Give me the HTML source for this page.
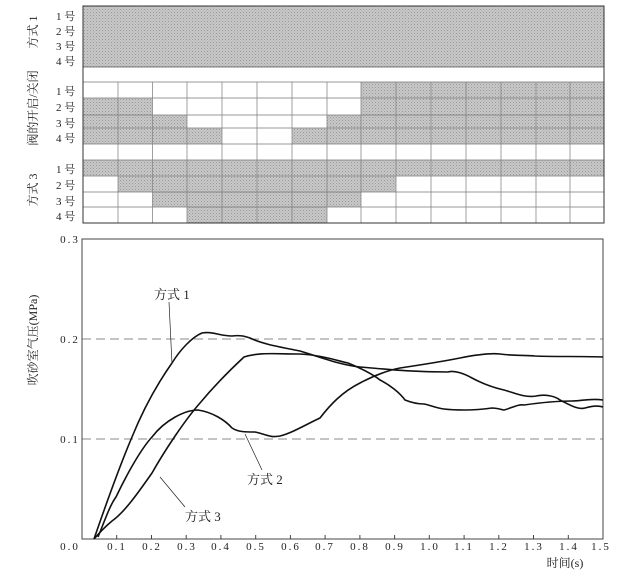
<!DOCTYPE html>
<html><head><meta charset="utf-8"><style>
html,body{margin:0;padding:0;background:#fff}
svg{display:block}
text{font-family:"Liberation Serif","Noto Serif CJK SC",serif;fill:#222}
</style></head><body>
<svg width="622" height="570" viewBox="0 0 622 570" xmlns="http://www.w3.org/2000/svg">
<defs>
<pattern id="p" width="3" height="3" patternUnits="userSpaceOnUse">
<rect width="3" height="3" fill="#c8c8c8"/><rect width="1" height="1" fill="#999"/><rect x="1.5" y="1.5" width="1" height="1" fill="#a8a8a8"/>
</pattern>
</defs>
<rect x="83" y="6" width="521" height="61" fill="url(#p)"/>
<g fill="url(#p)">
<rect x="361" y="82" width="243" height="16"/>
<rect x="83" y="98" width="69.5" height="17"/><rect x="361" y="98" width="243" height="17"/>
<rect x="83" y="115" width="104" height="13"/><rect x="327" y="115" width="277" height="13"/>
<rect x="83" y="128" width="139" height="16"/><rect x="292" y="128" width="312" height="16"/>
<rect x="83" y="160" width="521" height="16"/>
<rect x="118" y="176" width="278" height="16"/>
<rect x="152.5" y="192" width="208.5" height="15"/>
<rect x="187" y="207" width="140" height="16"/>
</g>
<g stroke="#777" stroke-width="0.8">
<line x1="83" x2="604" y1="67" y2="67" stroke="#555"/>
<line x1="83" x2="604" y1="82" y2="82"/><line x1="83" x2="604" y1="98" y2="98"/><line x1="83" x2="604" y1="115" y2="115"/><line x1="83" x2="604" y1="128" y2="128"/><line x1="83" x2="604" y1="144" y2="144"/><line x1="83" x2="604" y1="160" y2="160"/><line x1="83" x2="604" y1="176" y2="176"/><line x1="83" x2="604" y1="192" y2="192"/><line x1="83" x2="604" y1="207" y2="207"/>
</g>
<g stroke="#888" stroke-width="0.8">
<line x1="118" x2="118" y1="82" y2="223"/><line x1="152.5" x2="152.5" y1="82" y2="223"/><line x1="187" x2="187" y1="82" y2="223"/><line x1="222" x2="222" y1="82" y2="223"/><line x1="257" x2="257" y1="82" y2="223"/><line x1="292" x2="292" y1="82" y2="223"/><line x1="327" x2="327" y1="82" y2="223"/><line x1="361" x2="361" y1="82" y2="223"/><line x1="396" x2="396" y1="82" y2="223"/><line x1="431" x2="431" y1="82" y2="223"/><line x1="466" x2="466" y1="82" y2="223"/><line x1="501" x2="501" y1="82" y2="223"/><line x1="536" x2="536" y1="82" y2="223"/><line x1="570" x2="570" y1="82" y2="223"/>
</g>
<rect x="83" y="6" width="521" height="217" fill="none" stroke="#333" stroke-width="1"/>
<g font-size="11">
<text x="56" y="20">1 号</text><text x="56" y="35">2 号</text><text x="56" y="50">3 号</text><text x="56" y="65">4 号</text>
<text x="56" y="95">1 号</text><text x="56" y="111">2 号</text><text x="56" y="127">3 号</text><text x="56" y="142">4 号</text>
<text x="56" y="173">1 号</text><text x="56" y="189">2 号</text><text x="56" y="205">3 号</text><text x="56" y="220">4 号</text>
</g>
<g font-size="12" text-anchor="middle">
<text transform="translate(37,32) rotate(-90)">方式 1</text>
<text transform="translate(37,108) rotate(-90)">阀的开启/关闭</text>
<text transform="translate(37,190) rotate(-90)">方式 3</text>
</g>
<line x1="82" x2="603" y1="339" y2="339" stroke="#888" stroke-dasharray="9,5" stroke-width="1"/>
<line x1="82" x2="603" y1="439" y2="439" stroke="#888" stroke-dasharray="9,5" stroke-width="1"/>
<rect x="82" y="239" width="521" height="300" fill="none" stroke="#444" stroke-width="1"/>
<g stroke="#444" stroke-width="1">
<line x1="116.7" x2="116.7" y1="539" y2="535"/><line x1="151.5" x2="151.5" y1="539" y2="535"/><line x1="186.2" x2="186.2" y1="539" y2="535"/><line x1="220.9" x2="220.9" y1="539" y2="535"/><line x1="255.7" x2="255.7" y1="539" y2="535"/><line x1="290.4" x2="290.4" y1="539" y2="535"/><line x1="325.1" x2="325.1" y1="539" y2="535"/><line x1="359.9" x2="359.9" y1="539" y2="535"/><line x1="394.6" x2="394.6" y1="539" y2="535"/><line x1="429.3" x2="429.3" y1="539" y2="535"/><line x1="464.1" x2="464.1" y1="539" y2="535"/><line x1="498.8" x2="498.8" y1="539" y2="535"/><line x1="533.5" x2="533.5" y1="539" y2="535"/><line x1="568.3" x2="568.3" y1="539" y2="535"/>
</g>
<g font-size="11" text-anchor="middle" letter-spacing="2">
<text x="70" y="550">0.0</text>
<text x="117" y="550">0.1</text><text x="152" y="550">0.2</text><text x="187" y="550">0.3</text><text x="221" y="550">0.4</text><text x="256" y="550">0.5</text><text x="291" y="550">0.6</text><text x="325" y="550">0.7</text><text x="360" y="550">0.8</text><text x="395" y="550">0.9</text><text x="430" y="550">1.0</text><text x="464" y="550">1.1</text><text x="499" y="550">1.2</text><text x="534" y="550">1.3</text><text x="569" y="550">1.4</text><text x="601" y="550">1.5</text>
<text x="70" y="243">0.3</text><text x="70" y="343">0.2</text><text x="70" y="443">0.1</text>
</g>
<text x="565" y="567" font-size="12" text-anchor="middle">时间(s)</text>
<text transform="translate(37,340) rotate(-90)" font-size="12" text-anchor="middle">吹砂室气压(MPa)</text>
<g fill="none" stroke="#111" stroke-width="1.6" stroke-linejoin="round">
<path d="M94,539 C104,510 118,470 132,437 C145,405 160,380 172,363 C180,350 192,337 202,333 C212,331 220,336 232,336 C240,335 244,336 250,338 C262,344 280,347 300,351 C320,357 340,365 360,367 C385,369 410,372 448,372 C455,370 465,374 472,378 C485,385 495,388 504,390 C515,393 525,398 536,396 C545,394 555,396 560,400 C570,405 578,410 585,408 C595,405 600,406 603,407"/>
<path d="M98,537 C105,520 110,505 116,497 C125,478 140,450 152,437 C165,420 185,410 198,410 C212,412 225,420 232,428 C238,432 245,432 255,432 C265,434 270,438 280,436 C292,433 305,425 320,418 C330,405 342,392 360,383 C375,375 390,370 400,368 C420,365 440,362 460,358 C475,355 490,353 500,354 C515,356 525,355 535,356 C555,357 580,356 603,357"/>
<path d="M94,539 C100,532 106,526 112,521 C125,512 140,490 152,473 C165,450 185,420 200,403 C215,385 230,370 244,357 C260,352 275,354 300,354 C320,355 335,360 348,363 C365,370 375,376 380,380 C390,385 400,393 405,400 C410,402 418,404 424,404 C430,405 436,408 444,409 C452,410 458,410 465,410 C475,410 485,409 492,408 C498,408 502,410 504,410 C512,408 518,404 524,405 C545,402 560,401 572,401 C582,401 590,398 603,400"/>
</g>
<g stroke="#222" stroke-width="0.7">
<line x1="169" y1="302" x2="172" y2="364"/>
<line x1="262" y1="470" x2="245" y2="434"/>
<line x1="185" y1="507" x2="160" y2="477"/>
</g>
<g font-size="13">
<text x="154" y="299">方式 1</text>
<text x="247" y="484">方式 2</text>
<text x="185" y="521">方式 3</text>
</g>
</svg>
</body></html>
